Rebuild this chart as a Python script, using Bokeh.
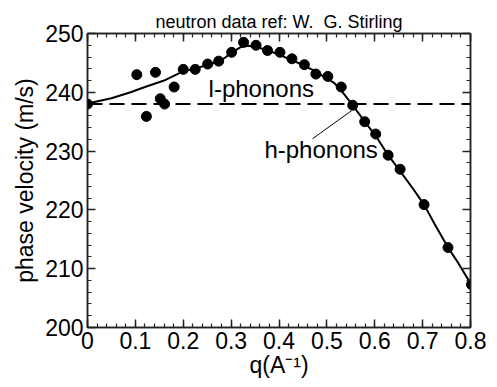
from bokeh.plotting import figure
from bokeh.models import Span, Label, LinearAxis, FixedTicker, Range1d
from bokeh.embed import file_html
from bokeh.resources import INLINE

# measured phase velocity (neutron data)
q_data = [0.0, 0.103, 0.123, 0.142, 0.152, 0.161, 0.181, 0.200, 0.225, 0.251,
          0.274, 0.301, 0.326, 0.352, 0.376, 0.402, 0.427, 0.453, 0.477, 0.502,
          0.530, 0.554, 0.579, 0.602, 0.628, 0.653, 0.703, 0.753, 0.802]
v_data = [238.0, 243.0, 235.9, 243.4, 238.9, 238.0, 240.9, 243.9, 243.9, 244.8,
          245.3, 246.8, 248.5, 248.0, 247.1, 246.8, 245.7, 244.7, 243.1, 242.7,
          240.9, 237.8, 235.0, 232.9, 229.3, 226.9, 220.9, 213.6, 207.3]

# smooth curve
q_fit = [0.0, 0.05, 0.09, 0.12, 0.16, 0.195, 0.216, 0.25, 0.279, 0.306, 0.32,
         0.335, 0.352, 0.375, 0.397, 0.42, 0.446, 0.47, 0.495, 0.515, 0.53,
         0.554, 0.579, 0.602, 0.628, 0.653, 0.68, 0.703, 0.725, 0.753, 0.775, 0.8]
v_fit = [238.1, 239.0, 240.0, 240.9, 242.0, 243.4, 243.9, 244.6, 245.4, 247.0, 247.7,
         247.9, 247.7, 247.2, 246.5, 245.7, 244.8, 243.8, 242.6, 241.6, 240.3,
         237.8, 235.0, 232.6, 229.3, 226.6, 223.6, 220.9, 217.6, 213.6, 210.9, 207.5]

sound_velocity = 238.0

x_ticks = [0.0, 0.1, 0.2, 0.3, 0.4, 0.5, 0.6, 0.7, 0.8]
x_tick_labels = ["0", "0.1", "0.2", "0.3", "0.4", "0.5", "0.6", "0.7", "0.8"]
x_minor = [round(i * 0.02, 2) for i in range(41)]
y_ticks = [200, 210, 220, 230, 240, 250]
y_tick_labels = ["200", "210", "220", "230", "240", "250"]
y_minor = list(range(200, 251, 2))

FONT = "Liberation Sans"

p = figure(width=497, height=387, output_backend="svg", toolbar_location=None,
           x_range=Range1d(0, 0.8), y_range=Range1d(200, 250),
           min_border_left=87, min_border_right=27, min_border_top=33,
           min_border_bottom=60,
           title="neutron data ref: W.\u00a0 G. Stirling")
p.title.align = "center"
p.title.text_font = FONT
p.title.text_font_size = "18px"
p.title.text_font_style = "normal"
p.title.text_color = "black"
p.title.standoff = 4
p.grid.visible = False
p.outline_line_color = "#222222"
p.outline_line_width = 1.5

xt = FixedTicker(ticks=x_ticks, minor_ticks=x_minor)
yt = FixedTicker(ticks=y_ticks, minor_ticks=y_minor)

def style(ax, show_labels):
    ax.axis_line_color = "#222222"
    ax.axis_line_width = 1.5
    ax.major_tick_in = 8
    ax.major_tick_out = 0
    ax.minor_tick_in = 4
    ax.minor_tick_out = 0
    ax.major_tick_line_color = "#222222"
    ax.minor_tick_line_color = "#222222"
    ax.major_tick_line_width = 1.5
    ax.minor_tick_line_width = 1.2
    ax.major_label_text_font = FONT
    ax.major_label_text_font_size = "23px"
    ax.major_label_text_color = "black" if show_labels else None
    ax.axis_label_text_font = FONT
    ax.axis_label_text_font_size = "23px"
    ax.axis_label_text_font_style = "normal"
    ax.axis_label_text_color = "black"
    ax.major_label_standoff = 4

p.xaxis.ticker = xt
p.yaxis.ticker = yt
p.xaxis.major_label_overrides = dict(zip(x_ticks, x_tick_labels))
p.yaxis.major_label_overrides = dict(zip(y_ticks, y_tick_labels))
p.xaxis.axis_label = "q(A\u207b\u00b9)"
p.yaxis.axis_label = "phase velocity (m/s)"
style(p.xaxis[0], True)
style(p.yaxis[0], True)
p.xaxis.axis_label_standoff = 0
p.yaxis.axis_label_standoff = 4

top = LinearAxis(ticker=xt)
right = LinearAxis(ticker=yt)
style(top, False)
style(right, False)
top.major_label_text_font_size = "0px"
right.major_label_text_font_size = "0px"
top.major_label_standoff = 0
right.major_label_standoff = 0
p.add_layout(top, "above")
p.add_layout(right, "right")

p.add_layout(Span(location=sound_velocity, dimension="width", line_color="black",
                  line_width=2, line_dash="15 7"))

p.line(q_fit, v_fit, line_color="black", line_width=2)
p.scatter(q_data, v_data, size=10, fill_color="black", line_color="black")

p.add_layout(Label(x=0.363, y=240.6, text="l-phonons", text_align="center",
                   text_baseline="alphabetic", text_font=FONT,
                   text_font_size="24px", text_color="black"))
p.add_layout(Label(x=0.488, y=230.2, text="h-phonons", text_align="center",
                   text_baseline="alphabetic", text_font=FONT,
                   text_font_size="24px", text_color="black"))
p.segment(x0=[0.47], y0=[232.1], x1=[0.552], y1=[236.9], line_color="black",
          line_width=1)

open("out.html", "w").write(file_html(p, INLINE))
